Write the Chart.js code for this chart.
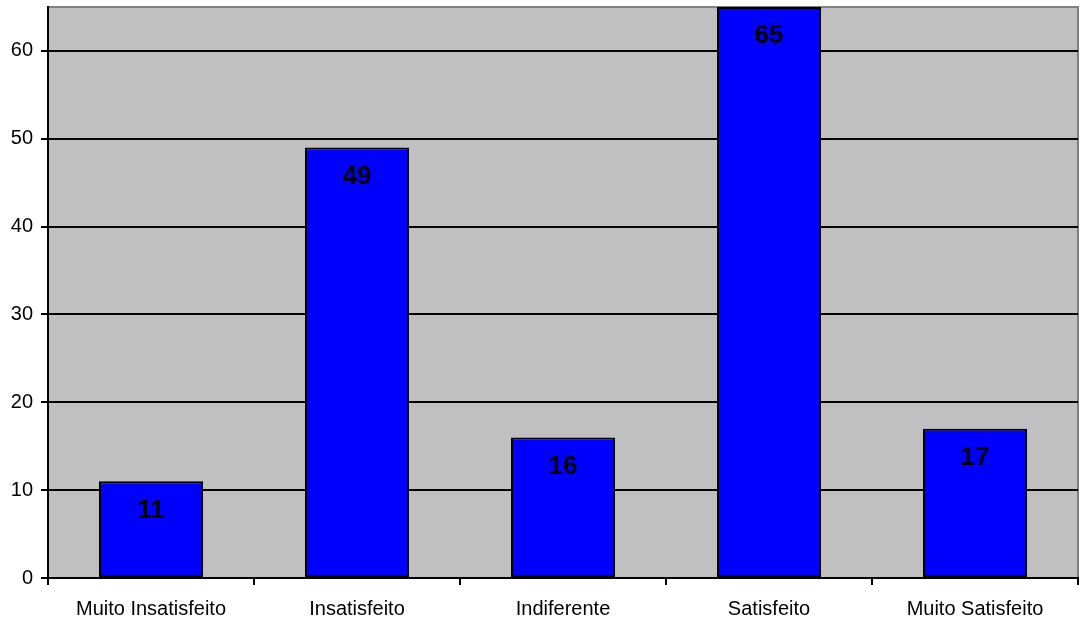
<!DOCTYPE html>
<html>
<head>
<meta charset="utf-8">
<script src="https://cdn.jsdelivr.net/npm/chart.js@4/dist/chart.umd.min.js"></script>
<style>
  html, body { margin: 0; padding: 0; background: #ffffff; }
  #wrap { width: 1080px; height: 623px; }
</style>
</head>
<body>
<div id="wrap"><canvas id="c" width="1080" height="623"></canvas></div>
<script>
// Satisfaction survey: number of answers per level
const categories = ['Muito Insatisfeito', 'Insatisfeito', 'Indiferente', 'Satisfeito', 'Muito Satisfeito'];
const answers = [11, 49, 16, 65, 17];
const yTicks = [0, 10, 20, 30, 40, 50, 60];

const FONT = '"Liberation Sans", Arial, sans-serif';

// Grey plot area with a thin grey frame on top and right
const plotBackground = {
  id: 'plotBackground',
  beforeDraw(chart) {
    const { ctx, chartArea: a } = chart;
    ctx.save();
    ctx.fillStyle = '#c0c0c0';
    ctx.fillRect(a.left, a.top, a.right - a.left, a.bottom - a.top);
    ctx.strokeStyle = '#808080';
    ctx.lineWidth = 2;
    ctx.beginPath();
    ctx.moveTo(a.left, a.top);
    ctx.lineTo(a.right, a.top);
    ctx.lineTo(a.right, a.bottom);
    ctx.stroke();
    ctx.restore();
  }
};

// Value printed inside the top of each bar
const valueLabels = {
  id: 'valueLabels',
  afterDatasetsDraw(chart) {
    const { ctx } = chart;
    const meta = chart.getDatasetMeta(0);
    ctx.save();
    ctx.font = 'bold 26px ' + FONT;
    ctx.fillStyle = '#000000';
    ctx.textAlign = 'center';
    ctx.textBaseline = 'middle';
    meta.data.forEach((bar, i) => {
      ctx.fillText(String(answers[i]), bar.x, bar.y + 29);
    });
    ctx.restore();
  }
};

new Chart(document.getElementById('c'), {
  type: 'bar',
  data: {
    labels: categories,
    datasets: [{
      data: answers,
      backgroundColor: '#0000ff',
      borderColor: '#000000',
      borderWidth: 2,
      borderSkipped: false,
      barPercentage: 0.505,
      categoryPercentage: 1.0
    }]
  },
  options: {
    responsive: false,
    animation: false,
    devicePixelRatio: 1,
    layout: { padding: { top: 7, right: 2, left: 0, bottom: 0 } },
    plugins: {
      legend: { display: false },
      tooltip: { enabled: false }
    },
    scales: {
      x: {
        grid: {
          offset: true,
          drawOnChartArea: false,
          drawTicks: true,
          tickLength: 7,
          color: '#000000',
          lineWidth: 2
        },
        border: { display: true, color: '#000000', width: 2 },
        ticks: {
          color: '#000000',
          font: { family: FONT, size: 20 },
          padding: 12,
          maxRotation: 0
        },
        afterFit(scale) {
          scale.height = 45;
          scale.paddingLeft = 0;
          scale.paddingRight = 0;
        }
      },
      y: {
        min: 0,
        max: 65,
        afterBuildTicks(scale) {
          scale.ticks = yTicks.map(v => ({ value: v }));
        },
        grid: {
          color: '#000000',
          lineWidth: 2,
          drawTicks: true,
          tickLength: 7
        },
        border: { display: true, color: '#000000', width: 2 },
        ticks: {
          color: '#000000',
          font: { family: FONT, size: 20 },
          padding: 8
        },
        afterFit(scale) {
          scale.width = 48;
          scale.paddingTop = 0;
          scale.paddingBottom = 0;
        }
      }
    }
  },
  plugins: [plotBackground, valueLabels]
});
</script>
</body>
</html>
